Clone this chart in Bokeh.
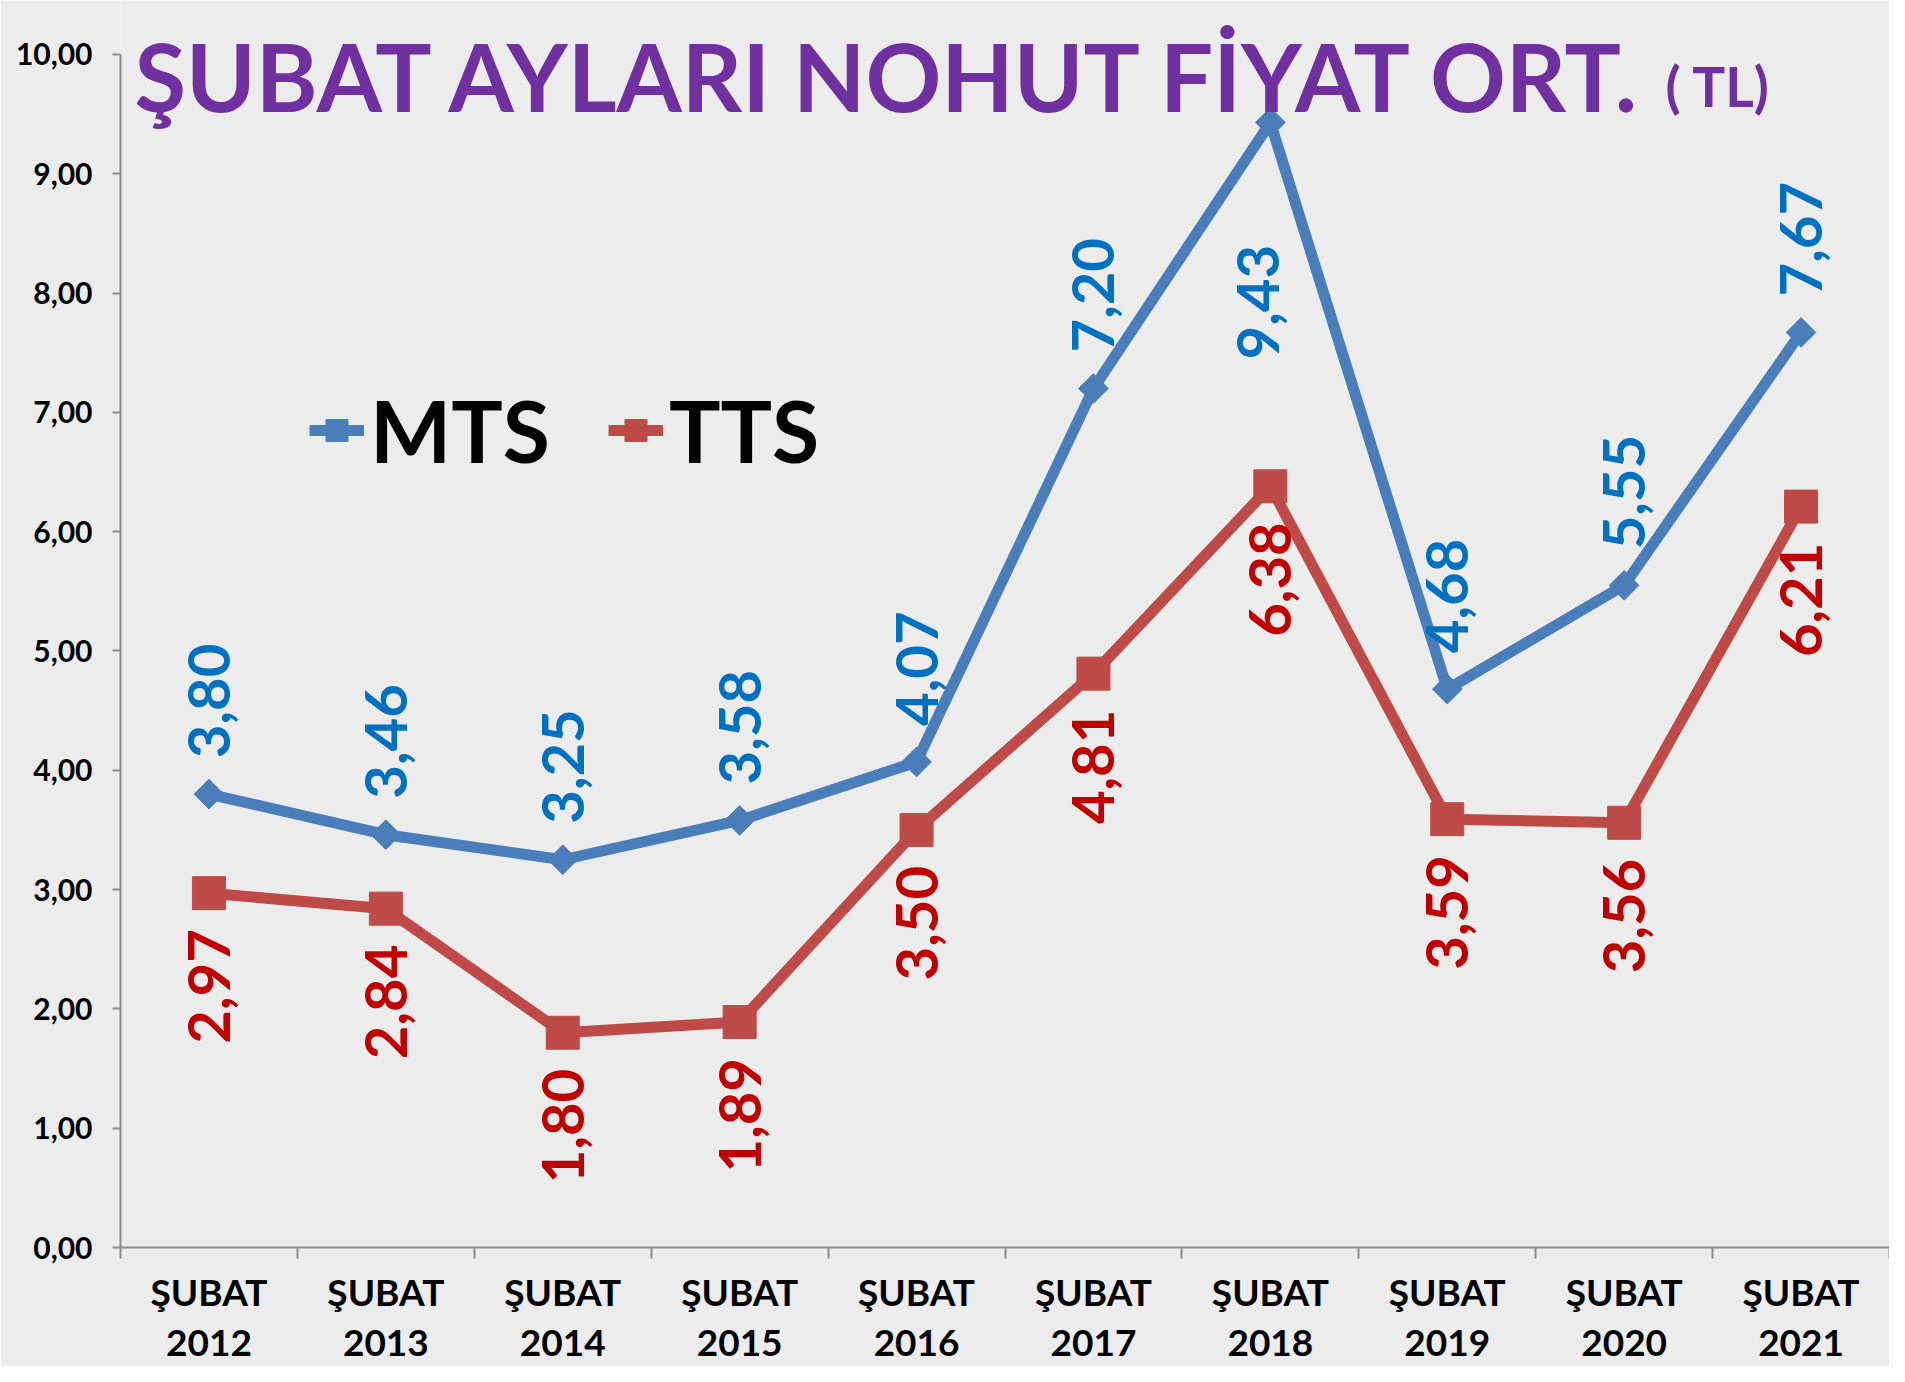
import numpy as np
from bokeh.plotting import figure
from bokeh.models import ColumnDataSource, FixedTicker, Label, Legend, LegendItem, Range1d
from bokeh.core.properties import value
from bokeh.embed import file_html
from bokeh.resources import INLINE

# ---- data ----
categories = ["2012", "2013", "2014", "2015", "2016", "2017", "2018", "2019", "2020", "2021"]
month = "ŞUBAT"
mts = [3.80, 3.46, 3.25, 3.58, 4.07, 7.20, 9.43, 4.68, 5.55, 7.67]
tts = [2.97, 2.84, 1.80, 1.89, 3.50, 4.81, 6.38, 3.59, 3.56, 6.21]
y_ticks = [0, 1, 2, 3, 4, 5, 6, 7, 8, 9, 10]
title_main = "ŞUBAT AYLARI NOHUT FİYAT ORT."
title_unit = "( TL)"

BG = "#ECECEC"
FONT = "Lato"
BLUE_LINE = "#4A7EBB"
RED_LINE = "#BE4B48"
BLUE_TXT = "#0070C0"
RED_TXT = "#C00000"
PURPLE = "#7030A0"
AXIS = "#8C8C8C"

n = len(categories)
xs = np.arange(1, n + 1)
ymax = y_ticks[-1]
top_pad = 0.452  # room above the axis top (in value units) for the title

p = figure(width=1889, height=1366, output_backend="svg", toolbar_location=None,
           x_range=Range1d(0.5, n + 0.5), y_range=Range1d(0, ymax + top_pad),
           min_border_left=120, min_border_right=0, min_border_top=0, min_border_bottom=110)
p.background_fill_color = BG
p.border_fill_color = BG
p.outline_line_color = None
p.grid.visible = False

# x axis: labels at category centres, tick marks between categories
p.xaxis.ticker = FixedTicker(ticks=list(xs), minor_ticks=list(np.arange(0.5, n + 1, 1.0)))
p.xaxis.major_label_overrides = {int(x): f"{month}\n{c}" for x, c in zip(xs, categories)}
p.xaxis.major_tick_out = 0
p.xaxis.major_tick_in = 0
p.xaxis.minor_tick_out = 11
p.xaxis.minor_tick_in = 0
p.xaxis.minor_tick_line_color = AXIS
p.xaxis.minor_tick_line_width = 2
p.xaxis.axis_line_color = AXIS
p.xaxis.axis_line_width = 2
p.xaxis.major_label_text_font = FONT
p.xaxis.major_label_text_font_style = "bold"
p.xaxis.major_label_text_font_size = "37px"
p.xaxis.major_label_text_line_height = 1.12
p.xaxis.major_label_text_color = "black"
p.xaxis.major_label_standoff = 10

# y axis
p.yaxis.ticker = FixedTicker(ticks=y_ticks, minor_ticks=[])
p.yaxis.bounds = (0, ymax)
p.yaxis.major_label_overrides = {t: f"{t:.2f}".replace(".", ",") for t in y_ticks}
p.yaxis.major_tick_out = 8
p.yaxis.major_tick_in = 0
p.yaxis.major_tick_line_color = AXIS
p.yaxis.major_tick_line_width = 2
p.yaxis.axis_line_color = AXIS
p.yaxis.axis_line_width = 2
p.yaxis.major_label_text_font = FONT
p.yaxis.major_label_text_font_style = "bold"
p.yaxis.major_label_text_font_size = "30px"
p.yaxis.major_label_text_color = "black"
p.yaxis.major_label_standoff = 20

src = ColumnDataSource(dict(x=xs, mts=mts, tts=tts,
                            mts_txt=[f"{v:.2f}".replace(".", ",") for v in mts],
                            tts_txt=[f"{v:.2f}".replace(".", ",") for v in tts]))

l2 = p.line("x", "tts", source=src, line_color=RED_LINE, line_width=11)
s2 = p.scatter("x", "tts", source=src, marker="square", size=33,
               fill_color=RED_LINE, line_color=RED_LINE)
l1 = p.line("x", "mts", source=src, line_color=BLUE_LINE, line_width=11)
s1 = p.scatter("x", "mts", source=src, marker="square", angle=np.pi / 4, size=21,
               fill_color=BLUE_LINE, line_color=BLUE_LINE)

# data labels (rotated); a label that would leave the plot at the top is put below its point
near_top = [v > ymax - 1.25 for v in mts]
src.data["mts_yoff"] = [237 if t else -36 for t in near_top]
src.data["mts_xoff"] = [-12 if t else 0 for t in near_top]
p.text("x", "mts", text="mts_txt", source=src, angle=np.pi / 2,
       x_offset="mts_xoff", y_offset="mts_yoff",
       text_align="left", text_baseline="middle",
       text_font=value(FONT), text_font_style="bold", text_font_size="58px",
       text_color=BLUE_TXT)
p.text("x", "tts", text="tts_txt", source=src, angle=np.pi / 2,
       y_offset=36, text_align="right", text_baseline="middle",
       text_font=value(FONT), text_font_style="bold", text_font_size="58px",
       text_color=RED_TXT)

legend = Legend(items=[LegendItem(label="MTS", renderers=[l1, s1]),
                       LegendItem(label="TTS", renderers=[l2, s2])],
                orientation="horizontal", location=(189, 766),
                background_fill_alpha=0, border_line_alpha=0,
                label_text_font=FONT, label_text_font_style="bold",
                label_text_font_size="86px", label_text_color="black",
                glyph_width=55, glyph_height=60, label_standoff=6,
                spacing=58, padding=0, margin=0)
p.add_layout(legend)

p.add_layout(Label(x=14, y=1172, x_units="screen", y_units="screen", text=title_main,
                   text_font=FONT, text_font_style="bold", text_font_size="94px",
                   text_color=PURPLE, text_baseline="alphabetic"))
p.add_layout(Label(x=1545, y=1162, x_units="screen", y_units="screen", text=title_unit,
                   text_font=FONT, text_font_style="bold", text_font_size="55px",
                   text_color=PURPLE, text_baseline="alphabetic"))

open("out.html", "w").write(file_html(p, INLINE))
